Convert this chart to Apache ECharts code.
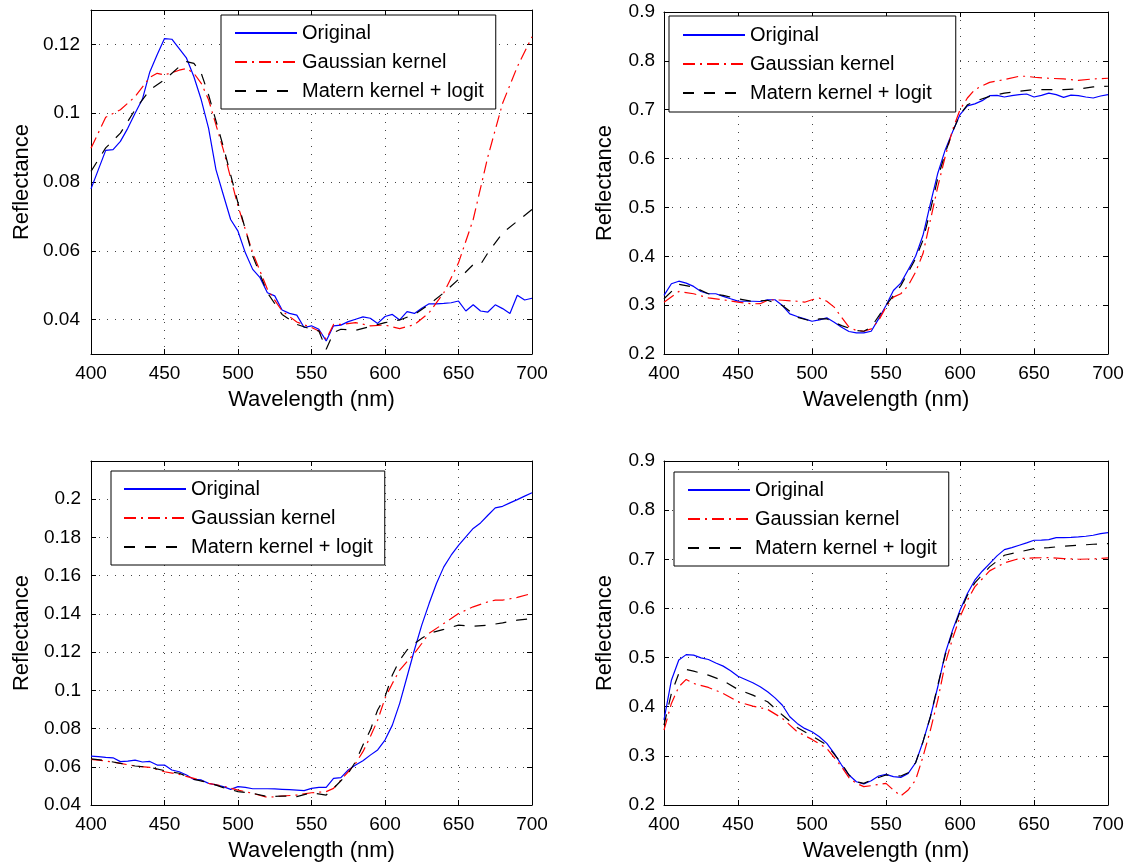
<!DOCTYPE html>
<html>
<head>
<meta charset="utf-8">
<title>Reflectance spectra</title>
<script src="https://cdn.jsdelivr.net/npm/echarts@6/dist/echarts.min.js"></script>
<style>
  html, body { margin: 0; padding: 0; background: #fff; }
  #chart { width: 1130px; height: 863px; }
</style>
</head>
<body>
<div id="chart"></div>
<script>
// Wavelength grid (nm) shared by the measured spectra
const wl5 = [400,405,410,415,420,425,430,435,440,445,450,455,460,465,470,475,480,485,490,495,
  500,505,510,515,520,525,530,535,540,545,550,555,560,565,570,575,580,585,590,595,
  600,605,610,615,620,625,630,635,640,645,650,655,660,665,670,675,680,685,690,695,700];

const seriesNames = ['Original', 'Gaussian kernel', 'Matern kernel + logit'];
const xTicks = [400, 450, 500, 550, 600, 650, 700];

// ---- Panel 1 (top left) ----
const p1Original = [0.078,0.0836,0.0892,0.0894,0.0918,0.0956,0.1,0.1041,0.112,0.117,0.1217,
  0.1215,0.1188,0.116,0.1106,0.1039,0.0956,0.0836,0.0763,0.0691,0.0657,
  0.0594,0.0546,0.0522,0.0478,0.0469,0.0428,0.0418,0.0413,0.0377,0.0382,
  0.0372,0.0338,0.0382,0.0384,0.0394,0.0401,0.0408,0.0404,0.0389,0.0409,
  0.0415,0.0399,0.0423,0.0418,0.0433,0.0446,0.0446,0.0447,0.0449,0.0454,
  0.0425,0.0443,0.0425,0.0422,0.0443,0.0432,0.0418,0.0471,0.0457,0.0462];
const p1GaussWl = [400,410,420,430,440,445,450,460,465,470,475,480,490,500,510,520,530,540,550,555,
  560,565,570,580,590,600,610,620,630,640,650,660,670,680,690,700];
const p1Gauss = [0.0898,0.0988,0.101,0.1048,0.1104,0.1116,0.1111,0.1125,0.113,0.1116,0.1087,0.1039,
  0.0894,0.073,0.0594,0.0488,0.0425,0.0393,0.0377,0.0367,0.0343,0.0386,0.0386,0.0391,0.0382,
  0.0384,0.0374,0.0385,0.042,0.0478,0.0565,0.0691,0.0874,0.1029,0.1135,0.1222];
const p1MaternWl = [400,410,420,430,440,450,460,465,470,475,480,490,500,510,520,530,540,550,555,560,
  565,570,580,590,600,610,620,630,640,650,660,665,670,680,690,700];
const p1Matern = [0.0831,0.0899,0.0942,0.101,0.1068,0.1097,0.1135,0.115,0.1145,0.1116,0.1053,0.0903,
  0.0739,0.0585,0.0478,0.0415,0.0386,0.0372,0.0367,0.0314,0.0362,0.0372,0.0369,0.038,0.0391,
  0.0399,0.0415,0.0444,0.0478,0.0517,0.056,0.056,0.0594,0.0652,0.0686,0.072];
const p1YTicks = [0.04, 0.06, 0.08, 0.1, 0.12];

// ---- Panel 2 (top right) ----
const p2Original = [0.32,0.3438,0.349,0.345,0.3384,0.328,0.3233,0.3233,0.318,0.313,0.3082,
  0.308,0.308,0.3075,0.311,0.311,0.2993,0.282,0.2767,0.272,0.267,
  0.27,0.274,0.265,0.2548,0.246,0.2432,0.2432,0.2466,0.272,0.2993,
  0.33,0.345,0.3726,0.4,0.443,0.508,0.57,0.6178,0.655,0.69,
  0.708,0.712,0.7185,0.7288,0.7295,0.726,0.7288,0.731,0.7322,0.726,
  0.7295,0.734,0.731,0.7253,0.73,0.7288,0.726,0.724,0.728,0.731];
const p2GaussWl = [400,410,420,430,440,450,460,465,470,475,480,490,495,500,505,510,515,520,525,530,
  535,540,545,550,555,560,565,570,575,580,585,590,595,600,605,610,615,620,630,640,645,650,
  660,670,680,690,700];
const p2Gauss = [0.306,0.328,0.3233,0.315,0.311,0.306,0.3027,0.303,0.31,0.311,0.31,0.308,0.306,
  0.311,0.3144,0.308,0.296,0.275,0.2548,0.248,0.2466,0.2514,0.2685,0.296,0.3164,0.3233,0.34,
  0.3678,0.4055,0.474,0.5425,0.604,0.659,0.7,0.724,0.741,0.749,0.756,0.7616,0.7685,0.7685,
  0.7664,0.7644,0.763,0.76,0.763,0.7644];
const p2MaternWl = [400,410,420,430,440,450,460,470,480,490,500,505,510,520,530,535,540,550,560,570,
  575,580,585,590,595,600,605,610,620,630,640,650,660,670,680,690,700];
const p2Matern = [0.313,0.3425,0.337,0.3233,0.32,0.313,0.3075,0.31,0.2993,0.2753,0.267,0.272,0.272,
  0.258,0.248,0.2466,0.255,0.2993,0.34,0.395,0.433,0.4945,0.56,0.611,0.655,0.69,0.71,0.717,
  0.7274,0.734,0.7377,0.741,0.741,0.741,0.7425,0.7466,0.748];

// ---- Panel 3 (bottom left) ----
const p3Original = [0.0656,0.0653,0.0649,0.0647,0.0627,0.063,0.0635,0.0625,0.0628,0.0609,0.0609,
  0.0583,0.0574,0.0557,0.0534,0.0531,0.0513,0.0505,0.0496,0.0482,0.0496,
  0.0492,0.0485,0.0485,0.0485,0.0484,0.0482,0.048,0.0478,0.0475,0.0487,
  0.0492,0.0492,0.0539,0.0543,0.0583,0.0609,0.0632,0.0661,0.0688,0.074,
  0.0818,0.0932,0.1071,0.1211,0.1341,0.1454,0.1559,0.1646,0.1707,0.1759,
  0.1803,0.1847,0.1876,0.1916,0.1955,0.1963,0.1981,0.1998,0.2016,0.2034];
const p3GaussWl = [400,410,420,430,440,450,460,470,480,490,500,510,520,530,540,550,560,565,570,575,
  580,585,590,595,600,605,610,615,620,625,630,640,650,660,670,675,680,690,700];
const p3Gauss = [0.0639,0.063,0.0618,0.0604,0.0597,0.0574,0.056,0.0539,0.0513,0.0499,0.0478,0.0461,
  0.044,0.0447,0.0452,0.0464,0.047,0.0487,0.0531,0.0574,0.0618,0.0679,0.0757,0.0844,0.0958,
  0.1036,0.1106,0.115,0.1193,0.1245,0.1298,0.135,0.1402,0.1437,0.1463,0.1472,0.1472,0.1486,0.1507];
const p3MaternWl = [400,410,420,430,440,450,460,470,480,490,500,510,520,530,540,550,560,565,570,575,
  580,585,590,595,600,605,610,615,620,625,630,640,650,660,670,680,690,700];
const p3Matern = [0.0641,0.0632,0.0618,0.0604,0.0597,0.058,0.0566,0.0534,0.0517,0.0491,0.047,0.0461,
  0.0444,0.0447,0.0444,0.0464,0.0452,0.0487,0.0527,0.0566,0.0627,0.0714,0.0792,0.0897,0.0966,
  0.108,0.1158,0.1211,0.1245,0.1272,0.1298,0.1319,0.1341,0.1336,0.1341,0.1353,0.1367,0.1376];

// ---- Panel 4 (bottom right) ----
const p4Original = [0.373,0.454,0.495,0.506,0.505,0.4995,0.496,0.489,0.4826,0.473,0.462,
  0.4555,0.4487,0.4406,0.4304,0.418,0.403,0.3796,0.366,0.3559,0.349,
  0.339,0.3254,0.305,0.2813,0.261,0.2474,0.2427,0.2495,0.259,0.2623,
  0.2576,0.2562,0.2644,0.286,0.3288,0.3796,0.4406,0.5083,0.5558,0.5964,
  0.6303,0.6574,0.6757,0.6913,0.7069,0.7197,0.7238,0.7286,0.7333,0.7387,
  0.739,0.7401,0.7441,0.7441,0.7445,0.7455,0.7469,0.7489,0.7523,0.7543];
const p4GaussWl = [400,405,410,415,420,430,440,450,460,470,480,490,500,510,520,525,530,535,540,545,
  550,555,560,565,570,575,580,585,590,595,600,605,610,620,630,640,650,660,670,680,690,700];
const p4Gauss = [0.3525,0.4067,0.4406,0.4555,0.4473,0.4392,0.427,0.41,0.4013,0.3945,0.3762,0.3491,
  0.3335,0.3152,0.2779,0.2556,0.244,0.2373,0.2393,0.242,0.244,0.2305,0.2183,0.2305,0.2508,
  0.2983,0.3525,0.4135,0.488,0.5388,0.5829,0.6167,0.6438,0.6764,0.6926,0.7015,0.7028,0.7035,
  0.7015,0.7001,0.7008,0.7028];
const p4MaternWl = [400,405,410,415,420,430,440,450,460,470,480,490,500,510,520,525,530,535,540,550,
  560,565,570,575,580,585,590,595,600,605,610,620,630,640,650,660,670,680,690,700];
const p4Matern = [0.3626,0.427,0.4677,0.4758,0.4724,0.4643,0.4528,0.4351,0.4236,0.41,0.383,0.3579,
  0.3403,0.322,0.2847,0.261,0.2474,0.244,0.2508,0.261,0.259,0.2657,0.286,0.3288,0.3796,0.444,
  0.505,0.5524,0.593,0.6269,0.652,0.6845,0.7082,0.715,0.7218,0.7238,0.7265,0.7286,0.7306,0.732];

// ---------------------------------------------------------------------------
const FONT = '"Liberation Sans", Arial, Helvetica, sans-serif';
const pair = (xs, ys) => xs.map((x, i) => [x, ys[i]]);

const lineStyles = [
  { color: '#0000ff', width: 1.2, type: 'solid' },
  { color: '#ff0000', width: 1.2, type: [12, 5, 2, 5] },
  { color: '#000000', width: 1.2, type: [11, 10] }
];

const panels = [
  {
    grid: { left: 91, top: 10, width: 441, height: 344 },
    y: { min: 0.03, max: 0.13, custom: p1YTicks },
    yLabelMargin: 11, yNameGap: 58,
    legend: { left: 221, top: 15, padding: [8, 12, 8, 13] },
    lines: [pair(wl5, p1Original), pair(p1GaussWl, p1Gauss), pair(p1MaternWl, p1Matern)]
  },
  {
    grid: { left: 664, top: 12, width: 444, height: 342 },
    y: { min: 0.2, max: 0.9, interval: 0.1 },
    yLabelMargin: 9, yNameGap: 48,
    legend: { left: 669, top: 16, padding: [9, 24, 9, 13] },
    lines: [pair(wl5, p2Original), pair(p2GaussWl, p2Gauss), pair(p2MaternWl, p2Matern)]
  },
  {
    grid: { left: 91, top: 461, width: 441, height: 344 },
    y: { min: 0.04, max: 0.22, interval: 0.02, hideMax: true },
    yLabelMargin: 10, yNameGap: 58,
    legend: { left: 111, top: 471, padding: [8, 12, 8, 12] },
    lines: [pair(wl5, p3Original), pair(p3GaussWl, p3Gauss), pair(p3MaternWl, p3Matern)]
  },
  {
    grid: { left: 664, top: 461, width: 444, height: 344 },
    y: { min: 0.2, max: 0.9, interval: 0.1 },
    yLabelMargin: 9, yNameGap: 48,
    legend: { left: 674, top: 472, padding: [8, 12, 8, 13] },
    lines: [pair(wl5, p4Original), pair(p4GaussWl, p4Gauss), pair(p4MaternWl, p4Matern)]
  }
];

const axisLine = { show: true, onZero: false, lineStyle: { color: '#000', width: 1 } };
const tickIn = { show: true, inside: true, length: 5, lineStyle: { color: '#000', width: 1 } };
const gridDots = { show: true, lineStyle: { color: '#444', width: 1, type: [1, 7] } };

const grids = [], xAxes = [], yAxes = [], series = [], legends = [];

panels.forEach((p, gi) => {
  grids.push(Object.assign({ containLabel: false }, p.grid));

  // bottom and top wavelength axes
  xAxes.push({
    gridIndex: gi, type: 'value', position: 'bottom', min: 400, max: 700, interval: 50,
    name: 'Wavelength (nm)', nameLocation: 'middle', nameGap: 35,
    nameTextStyle: { fontFamily: FONT, fontSize: 22, color: '#000' },
    axisLine: axisLine, axisTick: tickIn, splitLine: gridDots,
    axisLabel: { show: true, margin: 10, fontFamily: FONT, fontSize: 19, color: '#000',
      customValues: xTicks }
  });
  xAxes.push({
    gridIndex: gi, type: 'value', position: 'top', min: 400, max: 700, interval: 50,
    axisLine: axisLine, axisTick: tickIn, splitLine: { show: false }, axisLabel: { show: false }
  });

  // left and right reflectance axes
  const yBase = { min: p.y.min, max: p.y.max };
  if (p.y.interval) yBase.interval = p.y.interval;
  const labelOpt = { show: true, margin: p.yLabelMargin, fontFamily: FONT, fontSize: 19, color: '#000' };
  const tickOpt = Object.assign({}, tickIn);
  if (p.y.custom) {
    labelOpt.customValues = p.y.custom;
    tickOpt.customValues = p.y.custom;
  }
  if (p.y.hideMax) labelOpt.showMaxLabel = false;

  yAxes.push(Object.assign({
    gridIndex: gi, type: 'value', position: 'left',
    name: 'Reflectance', nameLocation: 'middle', nameGap: p.yNameGap,
    nameTextStyle: { fontFamily: FONT, fontSize: 22, color: '#000' },
    axisLine: axisLine, axisTick: tickOpt, splitLine: gridDots, axisLabel: labelOpt
  }, yBase));
  yAxes.push(Object.assign({
    gridIndex: gi, type: 'value', position: 'right',
    axisLine: axisLine, axisTick: tickOpt, splitLine: { show: false }, axisLabel: { show: false }
  }, yBase));

  p.lines.forEach((data, si) => {
    series.push({
      type: 'line', name: seriesNames[si], data: data,
      xAxisIndex: gi * 2, yAxisIndex: gi * 2,
      symbol: 'none', showSymbol: false, smooth: false, clip: true,
      lineStyle: lineStyles[si], itemStyle: { color: lineStyles[si].color },
      emphasis: { disabled: true }, z: 2 + si
    });
  });

  // boxed legend: line samples only, no point markers
  legends.push({
    data: seriesNames, orient: 'vertical',
    left: p.legend.left, top: p.legend.top, padding: p.legend.padding,
    itemGap: 9, itemWidth: 62, itemHeight: 14,
    itemStyle: { opacity: 0 },
    backgroundColor: '#fff', borderColor: '#000', borderWidth: 1,
    selectedMode: false, z: 10,
    textStyle: { fontFamily: FONT, fontSize: 20, color: '#000', lineHeight: 20 }
  });
});

const chart = echarts.init(document.getElementById('chart'), null, { renderer: 'canvas' });
chart.setOption({
  animation: false,
  backgroundColor: '#fff',
  grid: grids,
  xAxis: xAxes,
  yAxis: yAxes,
  legend: legends,
  series: series
});
</script>
</body>
</html>
